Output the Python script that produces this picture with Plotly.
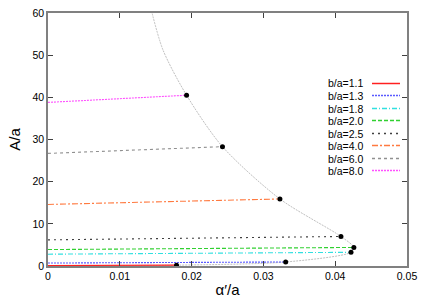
import plotly.graph_objects as go

# series: start (alpha'=0) and end (black dot) of each b/a curve
labels = ["b/a=1.1", "b/a=1.3", "b/a=1.8", "b/a=2.0", "b/a=2.5", "b/a=4.0", "b/a=6.0", "b/a=8.0"]
x_start = [0.0, 0.0, 0.0, 0.0, 0.0, 0.0, 0.0, 0.0]
y_start = [0.1, 0.7, 2.8, 3.9, 6.2, 14.6, 26.7, 38.8]
x_end = [0.0179, 0.0331, 0.0422, 0.0426, 0.0408, 0.0323, 0.0243, 0.0193]
y_end = [0.2, 0.95, 3.25, 4.4, 7.0, 15.9, 28.3, 40.5]
colors = ["#ff2020", "#5a5aff", "#30e0e0", "#30d030", "#404040", "#ff7a40", "#909090", "#ff50ff"]
dashes = ["solid", "2px,1px", "5px,2px,1px,2px", "4px,2px", "2px,4px", "6px,2px,2px,2px", "3px,3px", "2px,1px"]

# envelope curve through the end points
env_x = [0.0142, 0.0160, 0.0193, 0.0243, 0.0323, 0.0408, 0.0426, 0.0422, 0.0331, 0.0179, 0.0]
env_y = [62.0, 51.3, 40.5, 28.3, 15.9, 7.0, 4.4, 3.25, 0.95, 0.2, 0.0]

x_ticks = [0, 0.01, 0.02, 0.03, 0.04, 0.05]
y_ticks = [0, 10, 20, 30, 40, 50, 60]

fig = go.Figure()
fig.add_trace(go.Scatter(x=env_x, y=env_y, mode="lines",
                         line=dict(color="#b8b8b8", width=0.9, dash="2px,1px", shape="spline", smoothing=0.8),
                         showlegend=False, hoverinfo="skip"))
for i in range(len(labels)):
    fig.add_trace(go.Scatter(x=[x_start[i], x_end[i]], y=[y_start[i], y_end[i]], mode="lines",
                             line=dict(color=colors[i], width=1.1, dash=dashes[i]),
                             name=labels[i], showlegend=False))
fig.add_trace(go.Scatter(x=x_end, y=y_end, mode="markers",
                         marker=dict(color="black", size=5), showlegend=False))

# manual legend (text left of sample)
L, T, W, H = 48, 13, 359, 253
rows = [83.5, 95.5, 108.5, 120.5, 133.5, 145.5, 158.5, 170.5]
for i, lab in enumerate(labels):
    py = (T + H - rows[i]) / H
    fig.add_annotation(x=(365 - L) / W, y=py, xref="paper", yref="paper", text=lab,
                       showarrow=False, xanchor="right", yanchor="middle",
                       font=dict(size=10.5, color="black"))
    fig.add_shape(type="line", xref="paper", yref="paper", layer="above",
                  x0=(372 - L) / W, x1=(400 - L) / W, y0=py, y1=py,
                  line=dict(color=colors[i], width=1.5, dash=dashes[i]))

axis_common = dict(showline=True, linecolor="#808080", linewidth=1.5, mirror="allticks",
                   ticks="inside", ticklen=5, tickcolor="#404040", showgrid=False, zeroline=False,
                   automargin=False, tickfont=dict(size=10.5, color="black"))
fig.update_xaxes(range=[0, 0.05], tickvals=x_ticks, ticktext=[str(v) for v in x_ticks],
                 title=dict(text="α′/a", font=dict(size=15, color="black"), standoff=3), **axis_common)
fig.update_yaxes(range=[0, 60], tickvals=y_ticks,
                 title=dict(text="A/a", font=dict(size=15, color="black"), standoff=8), **axis_common)
fig.update_layout(width=425, height=298, margin=dict(l=48, r=18, t=13, b=32),
                  plot_bgcolor="white", paper_bgcolor="white",
                  font=dict(family="Liberation Sans, Arial, sans-serif"))
fig.write_html("out.html", config={"displayModeBar": False},
               post_script="document.body.style.margin='0';document.body.style.overflow='hidden';")
